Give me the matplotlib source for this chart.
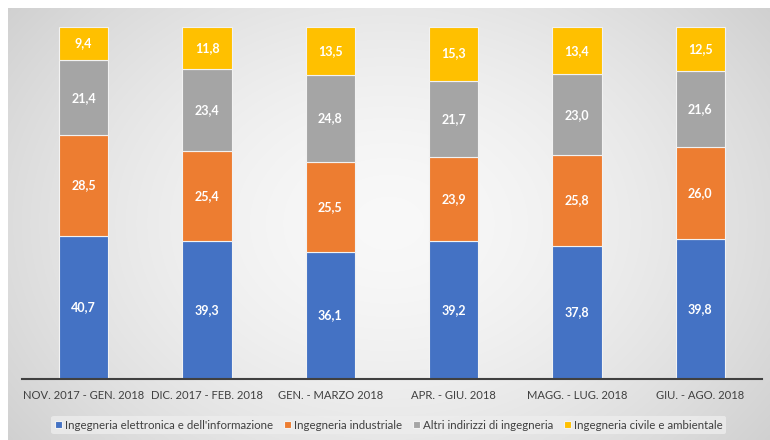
import numpy as np
import matplotlib
matplotlib.use("Agg")
import matplotlib.pyplot as plt

categories = ["NOV. 2017 - GEN. 2018", "DIC. 2017 - FEB. 2018", "GEN. - MARZO 2018",
              "APR. - GIU. 2018", "MAGG. - LUG. 2018", "GIU. - AGO. 2018"]
series_names = ["Ingegneria elettronica e dell'informazione", "Ingegneria industriale",
                "Altri indirizzi di ingegneria", "Ingegneria civile e ambientale"]
elettronica = [40.7, 39.3, 36.1, 39.2, 37.8, 39.8]
industriale = [28.5, 25.4, 25.5, 23.9, 25.8, 26.0]
altri = [21.4, 23.4, 24.8, 21.7, 23.0, 21.6]
civile = [9.4, 11.8, 13.5, 15.3, 13.4, 12.5]
colors = ["#4472C4", "#ED7D31", "#A5A5A5", "#FFC000"]

plt.rcParams['font.family'] = ['Lato', 'DejaVu Sans']

fig = plt.figure(figsize=(7.7, 4.4), dpi=100)
fig.patch.set_facecolor("white")

# background gradient
bg = fig.add_axes([8/770, 0, 1 - 8/770, 1 - 8/440], zorder=0)
yy, xx = np.mgrid[-1:1:200j, -1:1:400j]
r = np.sqrt(xx**2 * 0.9 + yy**2 * 0.5)
vals = 0.975 - 0.12 * np.clip(r, 0, 1.3) ** 1.6
bg.imshow(np.dstack([vals, vals, vals]), aspect='auto', extent=[0, 1, 0, 1], interpolation='bilinear')
bg.axis('off')

ax = fig.add_axes([22/770, (440-379)/440, 740/770, 352/440], zorder=1)
ax.patch.set_alpha(0)
x = np.arange(len(categories))
series = [elettronica, industriale, altri, civile]
bottom = np.zeros(len(categories))
for name, vals_s, c in zip(series_names, series, colors):
    ax.bar(x, vals_s, 0.40, bottom=bottom, color=c, edgecolor='#f2f2f2', linewidth=0.8, label=name)
    for xi, b, v in zip(x, bottom, vals_s):
        ax.text(xi, b + v / 2, f"{v:.1f}".replace('.', ','), ha='center', va='center',
                color='white', fontsize=9, fontweight='bold')
    bottom += np.array(vals_s)

ax.set_xlim(-0.5, len(categories) - 0.5)
ax.set_ylim(0, 100)
ax.set_yticks([])
ax.set_xticks(x)
ax.set_xticklabels(categories, fontsize=8.1, color='#404040')
ax.tick_params(axis='x', length=0, pad=8)
for s in ['top', 'left', 'right']:
    ax.spines[s].set_visible(False)
ax.spines['bottom'].set_color('#404040')
ax.spines['bottom'].set_linewidth(1.5)

leg = fig.legend(loc='center', bbox_to_anchor=(0.505, 15/440), ncol=4, frameon=True,
                 fontsize=8.3, handlelength=0.6, handleheight=0.6, handletextpad=0.3,
                 columnspacing=0.9, borderpad=0.3, labelcolor='#404040')
leg.get_frame().set_facecolor('#ededed')
leg.get_frame().set_edgecolor('none')
leg.get_frame().set_alpha(0.8)

fig.savefig("out.png", dpi=100)
